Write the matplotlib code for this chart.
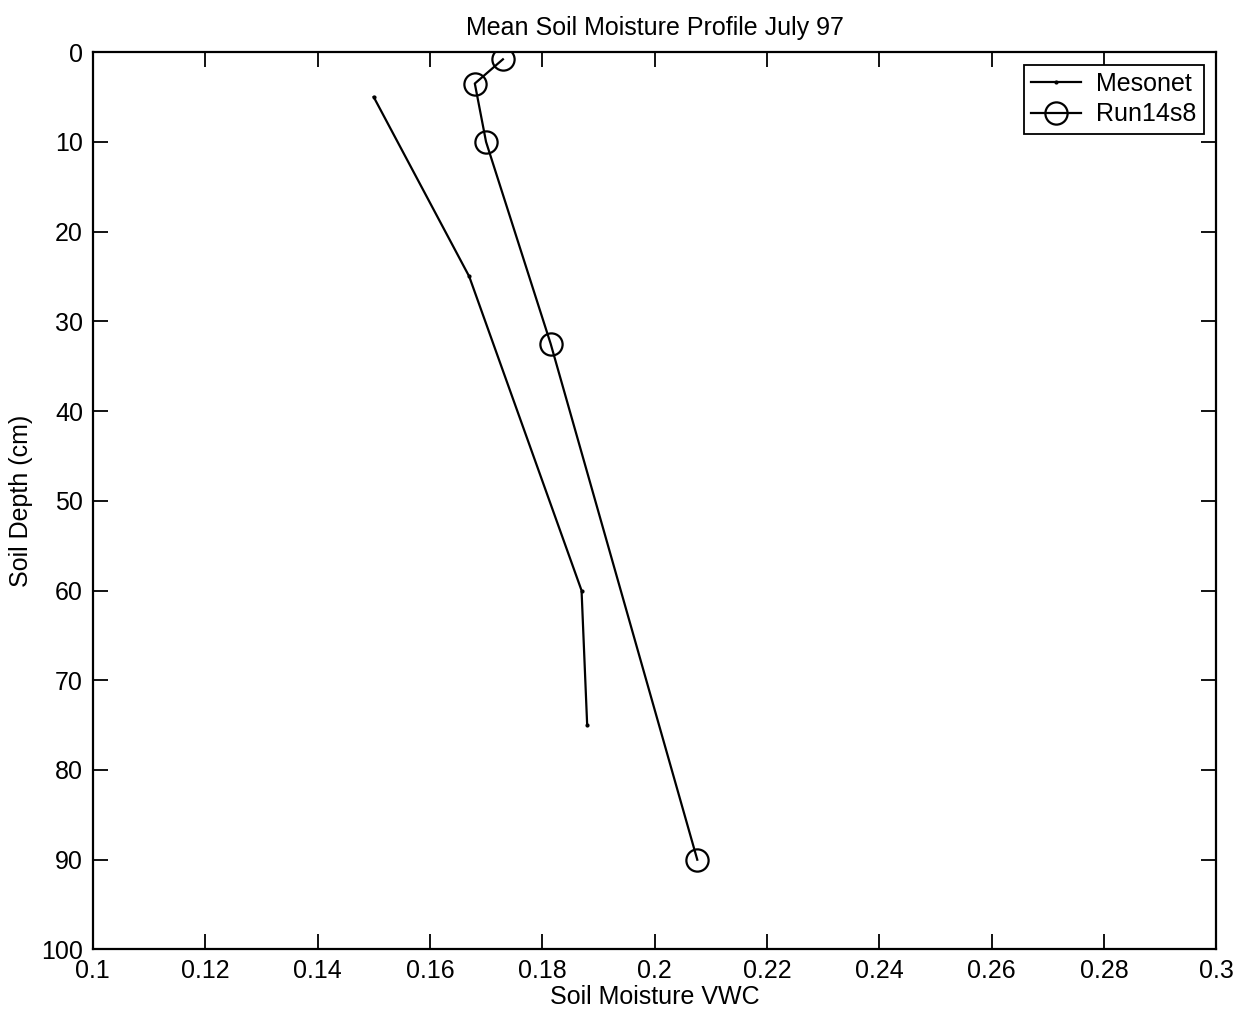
import matplotlib.pyplot as plt
import numpy as np

plt.rcParams['font.family'] = ['Liberation Sans', 'DejaVu Sans']

# mesonet station profile
meso_vwc = [0.150, 0.167, 0.187, 0.188]
meso_depth = [5, 25, 60, 75]

# model run profile
run_vwc = [0.173, 0.168, 0.170, 0.1815, 0.2076]
run_depth = [0.8, 3.5, 10, 32.5, 90]

x_ticks = [0.1, 0.12, 0.14, 0.16, 0.18, 0.2, 0.22, 0.24, 0.26, 0.28, 0.3]
x_labels = ['0.1', '0.12', '0.14', '0.16', '0.18', '0.2', '0.22', '0.24', '0.26', '0.28', '0.3']
y_ticks = list(range(0, 101, 10))

fig = plt.figure(figsize=(12.54, 10.22), dpi=100)
ax = fig.add_axes([0.074, 0.071, 0.896, 0.878])

ax.plot(meso_vwc, meso_depth, color='k', lw=1.6, marker='.', markersize=4, label='Mesonet')
ax.plot(run_vwc, run_depth, color='k', lw=1.6, marker='o', markersize=16,
        markerfacecolor='none', markeredgewidth=1.6, label='Run14s8')

ax.set_xlim(0.1, 0.3)
ax.set_ylim(100, 0)
ax.set_xticks(x_ticks)
ax.set_xticklabels(x_labels)
ax.set_yticks(y_ticks)
ax.tick_params(direction='in', top=True, right=True, length=11, width=1.3,
               labelsize=18, pad=7)
for s in ax.spines.values():
    s.set_linewidth(1.6)

ax.set_xlabel('Soil Moisture VWC', fontsize=18, labelpad=1)
ax.set_ylabel('Soil Depth (cm)', fontsize=18, labelpad=6)
ax.set_title('Mean Soil Moisture Profile July 97', fontsize=18, pad=12)

leg = ax.legend(loc='upper right', fontsize=18, fancybox=False, edgecolor='k',
                framealpha=1, handlelength=2.0, handletextpad=0.6,
                borderaxespad=0.5, borderpad=0.3, labelspacing=0.25)
leg.get_frame().set_linewidth(1.3)

fig.savefig('out.png', dpi=100)
